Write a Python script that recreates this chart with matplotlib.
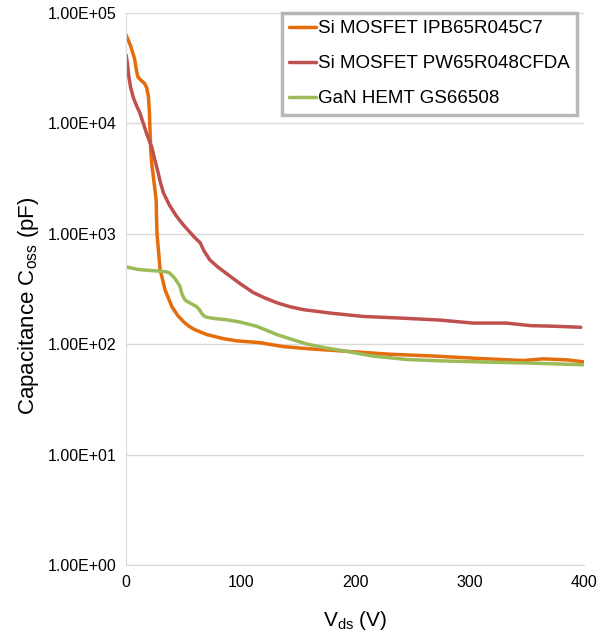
import matplotlib.pyplot as plt
from matplotlib.ticker import FuncFormatter

plt.rcParams['font.family'] = ['Liberation Sans', 'DejaVu Sans']
plt.rcParams['mathtext.fontset'] = 'custom'
plt.rcParams['mathtext.rm'] = 'Liberation Sans'
plt.rcParams['mathtext.it'] = 'Liberation Sans'

# Si MOSFET IPB65R045C7
v_c7 = [0, 4, 7.5, 9, 10.5, 13, 16, 18, 19.5, 20.4, 21, 21.5, 22.5, 23.5, 25, 26.3, 26.5, 27, 28, 29.7, 32, 34, 37, 40,
        45, 50, 55, 60, 70.5, 85, 96.7, 117, 137, 158, 193, 230, 268, 309, 347, 364, 385, 400]
c_c7 = [63000, 50000, 38000, 30000, 26000, 24500, 23000, 21000, 17500, 12500, 8000, 5700, 4200, 3500, 2600, 2000, 1500, 1000, 760, 470, 380, 310, 260, 218,
        182, 160, 145, 135, 122, 112, 107, 103, 95, 91, 86, 81, 78, 74, 71, 73.5, 72, 69]

# Si MOSFET PW65R048CFDA
v_cfda = [0, 1, 2.5, 4, 6.4, 9, 12, 15, 18, 22.4, 25, 28, 30, 32.6, 38, 44, 50, 55, 60, 64.6, 68, 73, 80, 91, 100, 111, 121, 131.6, 143,
          155, 180, 207, 240, 274, 303, 332, 353, 375, 397]
c_cfda = [41600, 36000, 26000, 21000, 17000, 14500, 12400, 10000, 8000, 6100, 4700, 3560, 2900, 2340, 1800, 1440, 1200, 1050, 920, 830, 700, 580, 500, 410, 350, 293, 262, 237, 218,
          205, 190, 178, 172, 165, 155, 155, 147, 145, 142]

# GaN HEMT GS66508
v_gan = [0, 10, 20, 29.7, 35, 38, 41.3, 44, 47, 49, 51.5, 56, 61.7, 64, 66, 68, 70.5, 78, 88, 100, 114, 123, 131.6, 145,
         158, 175, 192.7, 215, 245, 275, 309, 360, 399]
c_gan = [500, 475, 465, 457, 452, 440, 408, 375, 333, 280, 250, 235, 218, 205, 190, 180, 175, 170, 166, 158, 145, 133, 122, 110,
         100, 92, 86, 78, 72.6, 70.5, 69, 67, 65]

series = [
    ('Si MOSFET IPB65R045C7', v_c7, c_c7, '#E46C0A'),
    ('Si MOSFET PW65R048CFDA', v_cfda, c_cfda, '#C0504D'),
    ('GaN HEMT GS66508', v_gan, c_gan, '#9BBB59'),
]

fig = plt.figure(figsize=(6.15, 6.37), dpi=100)
ax = fig.add_axes([0.205, 0.113, 0.745, 0.867])

for name, v, c, col in series:
    ax.plot(v, c, color=col, lw=2.5, label=name, solid_joinstyle='round', solid_capstyle='round')

ax.set_yscale('log')
ax.set_ylim(1, 1e5)
ax.set_xlim(0, 400)
ax.set_xticks([0, 100, 200, 300, 400])
ax.set_yticks([1, 10, 100, 1000, 10000, 100000])
ax.minorticks_off()
ax.yaxis.set_major_formatter(FuncFormatter(lambda y, p: '%.2E' % y))
ax.grid(axis='y', color='#D9D9D9', lw=1)
ax.set_axisbelow(True)
for s in ['top', 'right']:
    ax.spines[s].set_visible(False)
for s in ['left', 'bottom']:
    ax.spines[s].set_color('#D9D9D9')
ax.tick_params(length=0, labelsize=11.5, pad=7, colors='#000000')

ax.set_xlabel('V$_{\\mathrm{ds}}$ (V)', fontsize=15, labelpad=14)
ax.set_ylabel('Capacitance C$_{\\mathrm{oss}}$ (pF)', fontsize=16)
ax.yaxis.set_label_coords(-0.185, 0.47)

leg = ax.legend(loc='upper right', bbox_to_anchor=(0.985, 1.0), fontsize=13.5, frameon=True, fancybox=False,
                handlelength=1.45, handletextpad=0.1, borderpad=0.4, labelspacing=0.95, borderaxespad=0.0)
leg.get_frame().set_edgecolor('#A6A6A6')
leg.get_frame().set_linewidth(2.5)

plt.savefig('out.png')
